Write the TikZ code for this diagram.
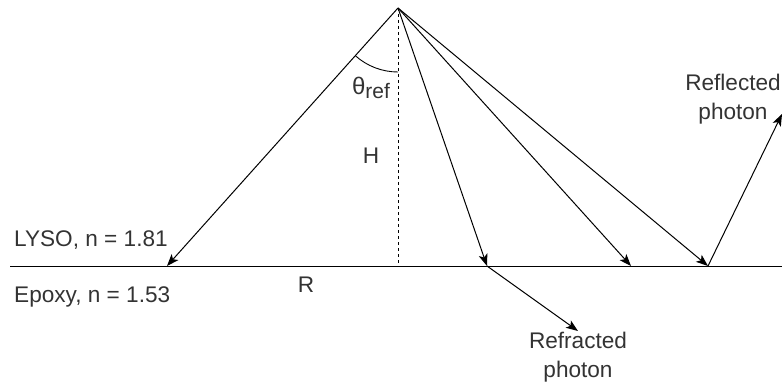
\documentclass[tikz,border=0pt]{standalone}
\usepackage{fontspec}
\setmainfont{Liberation Sans}
\usetikzlibrary{arrows.meta}
\definecolor{labelgray}{HTML}{333333}

\begin{document}
\begin{tikzpicture}[
    x=1pt, y=-1pt,
    every node/.style={font=\fontsize{22.6}{29}\selectfont, text=labelgray, inner sep=0pt},
    % Ray style
    ray/.style={
        -{Stealth[length=12pt, width=9pt, inset=3pt]}, line width=1pt, black
    },
    % Interface line style
    interface/.style={line width=1pt, black},
    % Normal (height) line style
    normal/.style={line width=0.9pt, black, dash pattern=on 3pt off 3pt},
    % Two-line photon label
    photon label/.style={align=center}
]
\useasboundingbox (0,0) rectangle (782,385);

% --- Points ---
\coordinate (src) at (398,8);
\coordinate (foot) at (398,266);
\coordinate (ifl) at (10,266);
\coordinate (ifr) at (782,266);
\coordinate (hitA) at (167,266);
\coordinate (hitB) at (487,266);
\coordinate (hitC) at (631,266);
\coordinate (hitD) at (708,266);
\coordinate (refr) at (578,331);
\coordinate (refl) at (782,114);

% --- Interface and height ---
\draw[interface] (ifl) -- (ifr);
\draw[normal] (src) -- (foot);

% --- Rays from the source ---
\draw[ray] (src) -- (hitA);
\draw[ray] (src) -- (hitB);
\draw[ray] (src) -- (hitC);
\draw[ray] (src) -- (hitD);

% --- Refracted and reflected rays ---
\draw[ray] (hitB) -- (refr);
\draw[ray] (hitD) -- (refl);

% --- Angle arc ---
\draw[line width=0.9pt] (src) ++(228.2:64pt) arc[start angle=228.2, end angle=270, radius=64pt];

% --- Labels ---
\node[anchor=west] (lyso) at (14,240) {LYSO, n = 1.81};
\node[anchor=west] (epoxy) at (14,297) {Epoxy, n = 1.53};
\node (rlab) at (306,285) {R};
\node (hlab) at (371,156) {H};
\node (theta) at (371,88) {{\fontsize{24}{24}\selectfont θ}\raisebox{-0.2em}{\fontsize{21}{21}\selectfont ref}};
\node[photon label] (refrlab) at (578,357) {Refracted\\photon};
\node[photon label] (refllab) at (733,99) {Reflected\\photon};

\end{tikzpicture}
\end{document}
